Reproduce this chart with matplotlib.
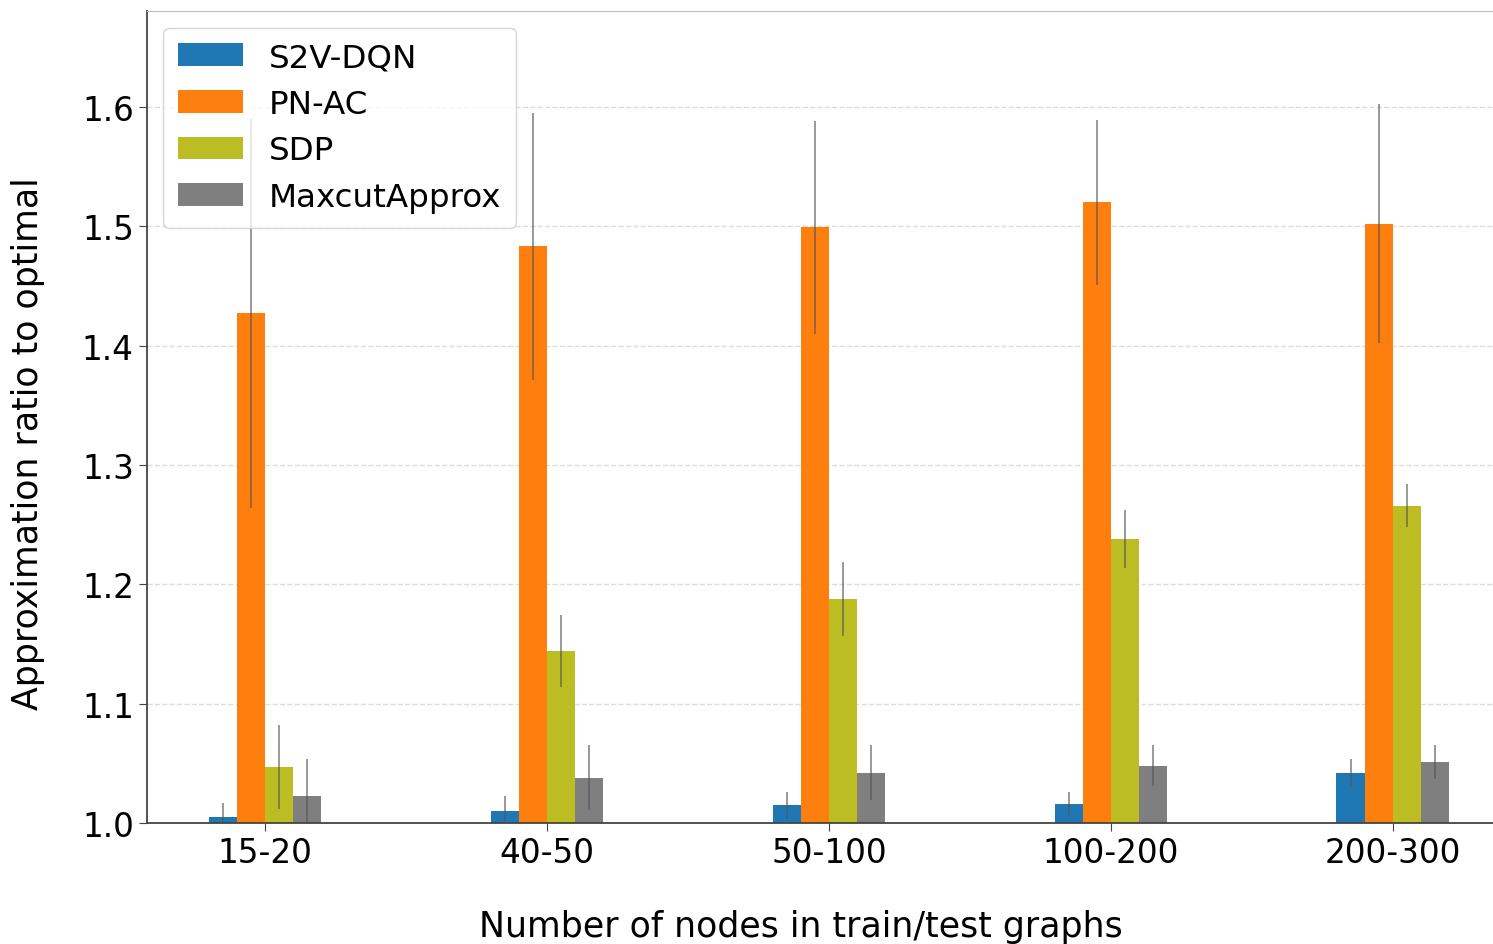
import numpy as np
import matplotlib
matplotlib.use('Agg')
import matplotlib.pyplot as plt

groups = ['15-20', '40-50', '50-100', '100-200', '200-300']
methods = ['S2V-DQN', 'PN-AC', 'SDP', 'MaxcutApprox']
colors = ['#1f77b4', '#ff7f0e', '#bcbd22', '#7f7f7f']

s2v_mean = [1.005, 1.010, 1.015, 1.016, 1.042]
s2v_err = [0.012, 0.013, 0.011, 0.010, 0.012]
pnac_mean = [1.427, 1.483, 1.499, 1.520, 1.502]
pnac_err = [0.163, 0.112, 0.089, 0.069, 0.100]
sdp_mean = [1.047, 1.144, 1.188, 1.238, 1.266]
sdp_err = [0.035, 0.030, 0.031, 0.024, 0.018]
maxcut_mean = [1.023, 1.038, 1.042, 1.048, 1.051]
maxcut_err = [0.031, 0.027, 0.023, 0.017, 0.014]

means = [s2v_mean, pnac_mean, sdp_mean, maxcut_mean]
errs = [s2v_err, pnac_err, sdp_err, maxcut_err]

fig = plt.figure(figsize=(14.93, 9.45), dpi=100)
ax = fig.add_axes([0.0985, 0.128, 0.9015, 0.859])

x = np.arange(len(groups))
width = 0.1
for i, (name, m, e, c) in enumerate(zip(methods, means, errs, colors)):
    ax.bar(x + (i - 1.5) * width, m, width, color=c, label=name,
           yerr=e, ecolor='#555555', error_kw=dict(elinewidth=1.2, alpha=0.7))

ax.set_ylim(1.0, 1.68)
ax.set_xlim(-0.418, 4.355)
ax.set_yticks([1.0, 1.1, 1.2, 1.3, 1.4, 1.5, 1.6])
ax.set_xticks(x)
ax.set_xticklabels(groups)
ax.tick_params(labelsize=23.5, length=6, color='#444444')
ax.grid(axis='y', linestyle='--', color='#dddddd', linewidth=1)
ax.set_axisbelow(True)
for s in ['left', 'bottom']:
    ax.spines[s].set_color('#444444')
    ax.spines[s].set_linewidth(1.3)
ax.spines['top'].set_color('#bbbbbb')
ax.spines['right'].set_visible(False)

ax.set_xlabel('Number of nodes in train/test graphs', fontsize=25)
ax.set_ylabel('Approximation ratio to optimal', fontsize=25)
ax.xaxis.set_label_coords(0.486, -0.106)
ax.yaxis.set_label_coords(-0.076, 0.469)
ax.legend(loc='upper left', fontsize=23.4, handlelength=2.0, handleheight=0.7,
          handletextpad=0.8, borderpad=0.45, labelspacing=0.48, framealpha=0.8)

plt.savefig('out.png', dpi=100)
